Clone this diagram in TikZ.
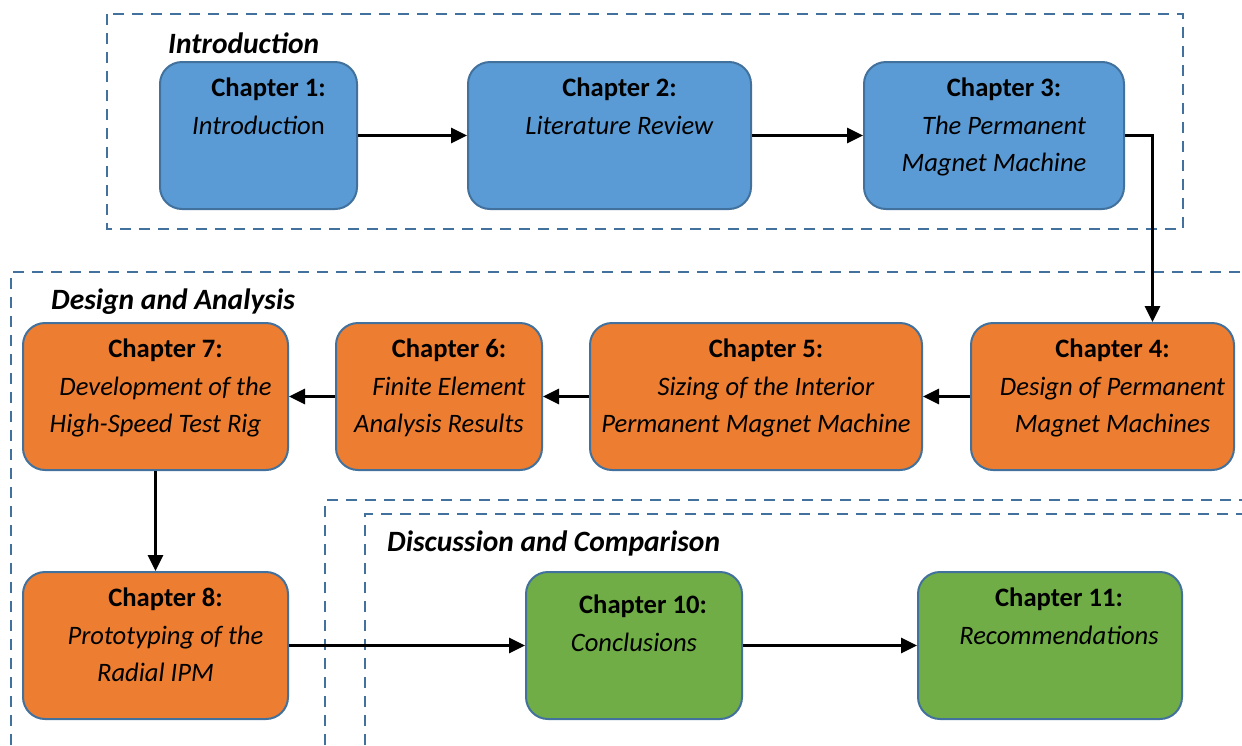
\documentclass[tikz,border=0pt]{standalone}
\usepackage{fontspec}
\setmainfont{Carlito}
\usetikzlibrary{arrows.meta}
\definecolor{chapblue}{RGB}{91,155,213}
\definecolor{chaporange}{RGB}{237,125,49}
\definecolor{chapgreen}{RGB}{112,173,71}
\definecolor{edgeblue}{RGB}{65,113,156}
\begin{document}
\begin{tikzpicture}[x=1pt,y=-1pt,>={Triangle[length=16pt,width=15pt]},
    chap/.style={draw=edgeblue,line width=2pt,rounded corners=22pt,minimum height=147pt},
    chaptext/.style={anchor=north,inner sep=0pt,align=center,font=\fontsize{26.6}{37.5}\selectfont},
    arr/.style={->,line width=3pt},
    dashbox/.style={draw=edgeblue,line width=2.7pt,dash pattern=on 11pt off 8pt},
    part/.style={anchor=west,inner sep=0pt,font=\fontsize{29.5}{33}\selectfont\bfseries\itshape}]
    \useasboundingbox (0,0) rectangle (1242,745);
    % dashed groups
    \draw[dashbox] (107,14) rectangle (1183,229);
    \draw[dashbox] (11,745) -- (11,272) -- (1242,272);
    \draw[dashbox] (325,745) -- (325,500) -- (1242,500);
    \draw[dashbox] (365,745) -- (365,514) -- (1242,514);
    \node[part] (pintro) at (168,43) {Introduction};
    \node[part] (pdesign) at (51,302) {Design and Analysis};
    \node[part] (pdisc) at (387,543) {Discussion and Comparison};
    % chapters
    \node[chap,fill=chapblue,minimum width=197pt] (c1) at (258.5,135.5) {};
    \node[chap,fill=chapblue,minimum width=283pt] (c2) at (609.5,135.5) {};
    \node[chap,fill=chapblue,minimum width=260pt] (c3) at (994,135.5) {};
    \node[chap,fill=chaporange,minimum width=263pt] (c4) at (1102.5,396.5) {};
    \node[chap,fill=chaporange,minimum width=332pt] (c5) at (756,396.5) {};
    \node[chap,fill=chaporange,minimum width=206pt] (c6) at (439,396.5) {};
    \node[chap,fill=chaporange,minimum width=265pt] (c7) at (155.5,396.5) {};
    \node[chap,fill=chaporange,minimum width=265pt] (c8) at (155.5,645.5) {};
    \node[chap,fill=chapgreen,minimum width=216pt] (c10) at (634,645.5) {};
    \node[chap,fill=chapgreen,minimum width=264pt] (c11) at (1050,645.5) {};
    \node[chaptext] (t1) at ([yshift=-17]c1.north) {\hspace*{20pt}\textbf{Chapter 1:}\\\textit{Introductio}n};
    \node[chaptext] (t2) at ([xshift=10,yshift=-17]c2.north) {\textbf{Chapter 2:}\\\textit{Literature Review}};
    \node[chaptext] (t3) at ([yshift=-17]c3.north) {\hspace*{20pt}\textbf{Chapter 3:}\\\hspace*{20pt}\textit{The Permanent}\\\textit{Magnet Machine}};
    \node[chaptext] (t4) at ([xshift=10,yshift=-17]c4.north) {\textbf{Chapter 4:}\\\textit{Design of Permanent}\\\textit{Magnet Machines}};
    \node[chaptext] (t5) at ([yshift=-17]c5.north) {\hspace*{20pt}\textbf{Chapter 5:}\\\hspace*{20pt}\textit{Sizing of the Interior}\\\textit{Permanent Magnet Machine}};
    \node[chaptext] (t6) at ([yshift=-17]c6.north) {\hspace*{20pt}\textbf{Chapter 6:}\\\hspace*{20pt}\textit{Finite Element}\\\textit{Analysis Results}};
    \node[chaptext] (t7) at ([yshift=-17]c7.north) {\hspace*{20pt}\textbf{Chapter 7:}\\\hspace*{20pt}\textit{Development of the}\\\textit{High-Speed Test Rig}};
    \node[chaptext] (t8) at ([yshift=-17]c8.north) {\hspace*{20pt}\textbf{Chapter 8:}\\\hspace*{20pt}\textit{Prototyping of the}\\\textit{Radial IPM}};
    \node[chaptext] (t10) at ([yshift=-24]c10.north) {\hspace*{18pt}\textbf{Chapter 10:}\\\textit{Conclusions}};
    \node[chaptext] (t11) at ([xshift=9,yshift=-17]c11.north) {\textbf{Chapter 11:}\\\textit{Recommendations}};
    % flow
    \draw[arr] (c1) -- (c2);
    \draw[arr] (c2) -- (c3);
    \draw[arr] (c3.east) -| ([xshift=50]c4.north);
    \draw[arr] (c4) -- (c5);
    \draw[arr] (c5) -- (c6);
    \draw[arr] (c6) -- (c7);
    \draw[arr] (c7) -- (c8);
    \draw[arr] (c8) -- (c10);
    \draw[arr] (c10) -- (c11);
\end{tikzpicture}
\end{document}
